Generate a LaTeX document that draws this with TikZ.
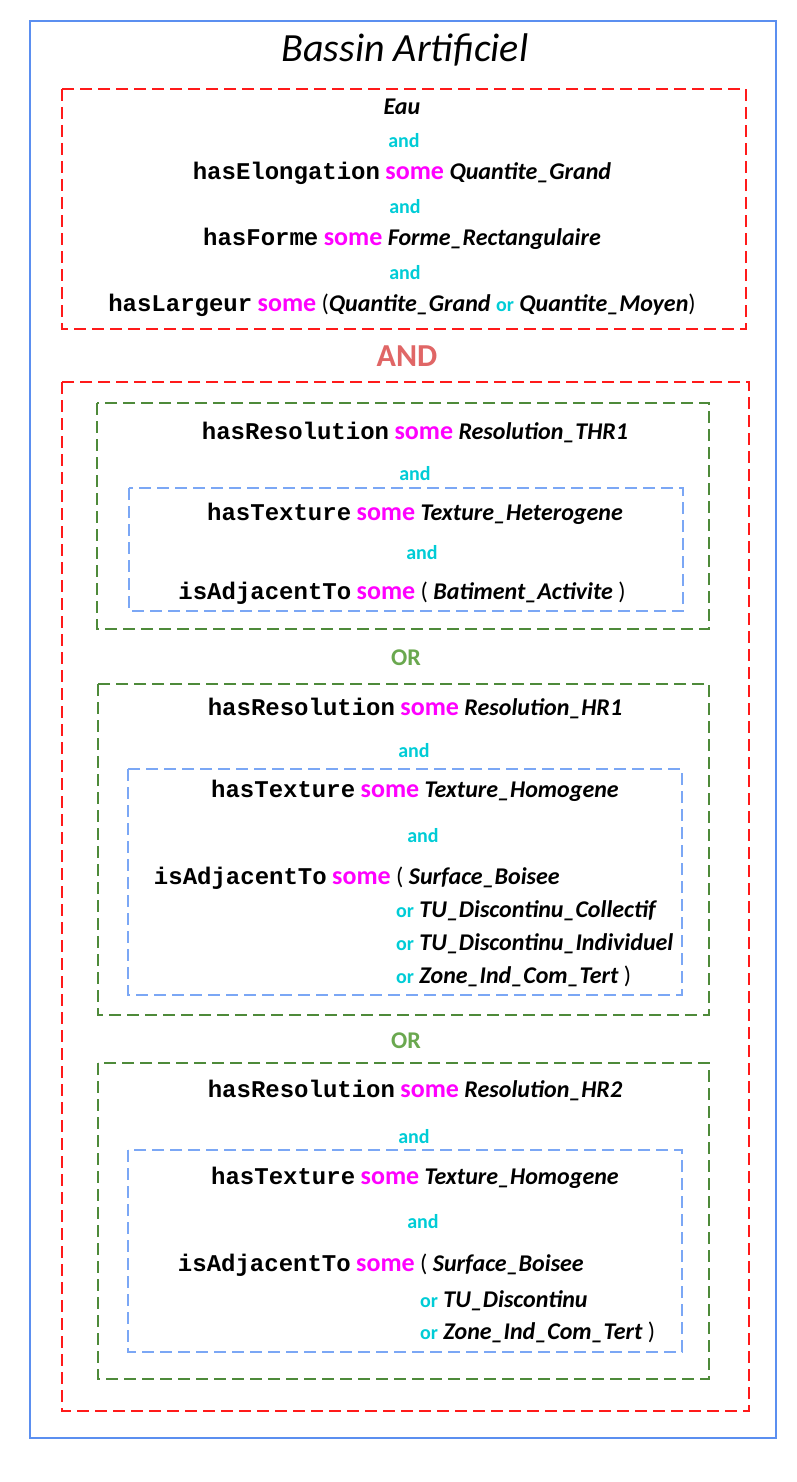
\documentclass[tikz,border=0pt]{standalone}
\usepackage{fontspec}
\setmainfont{Carlito}
\setmonofont{Liberation Mono}
\definecolor{outerblue}{HTML}{5B8FF0}
\definecolor{boxred}{HTML}{FF1A1A}
\definecolor{boxgreen}{HTML}{4E8A3A}
\definecolor{boxblue}{HTML}{7BA7F5}
\definecolor{kwcyan}{HTML}{00CCD6}
\definecolor{kwmag}{HTML}{FF00FF}
\definecolor{andred}{HTML}{E06666}
\definecolor{orgreen}{HTML}{6AA84F}
\newcommand{\prop}[1]{{\ttfamily\bfseries #1}}
\newcommand{\kwsome}{{\color{kwmag}\bfseries\fontsize{26}{30}\selectfont some}}
\newcommand{\cls}[1]{{\bfseries\itshape #1}}
\newcommand{\kwor}{{\color{kwcyan}\bfseries\fontsize{20}{24}\selectfont or}}
\newcommand{\kwand}{{\color{kwcyan}\bfseries\fontsize{20}{24}\selectfont and}}
\begin{document}
\begin{tikzpicture}[x=1pt,y=-1pt,
  txt/.style={inner sep=0pt, anchor=mid, yshift=-5pt, font=\fontsize{24}{28}\selectfont},
  outerbox/.style={draw=outerblue, line width=1.8pt},
  redbox/.style={draw=boxred, line width=1.5pt, dash pattern=on 12pt off 6pt},
  greenbox/.style={draw=boxgreen, line width=1.5pt, dash pattern=on 12pt off 6pt},
  bluebox/.style={draw=boxblue, line width=1.5pt, dash pattern=on 12pt off 6pt},
  bigop/.style={inner sep=0pt, anchor=mid, yshift=-6pt, font=\bfseries\fontsize{32}{36}\selectfont, text=andred},
  orop/.style={inner sep=0pt, anchor=mid, yshift=-5pt, font=\bfseries\fontsize{24}{28}\selectfont, text=orgreen}]
\useasboundingbox (0,0) rectangle (796,1482);
% outer
\draw[outerbox] (30,21) rectangle (776,1438);
\node[inner sep=0pt, anchor=mid, yshift=-9pt, font=\itshape\fontsize{40}{44}\selectfont] (title) at (405,50) {Bassin Artificiel};
% box 1
\draw[redbox] (62,89) rectangle (746,329);
\node[txt] (eau) at (402,107) {\cls{Eau}};
\node[txt] (and1) at (404,140) {\kwand};
\node[txt] (elong) at (402,172) {\prop{hasElongation} \kwsome{} \cls{Quantite\_Grand}};
\node[txt] (and2) at (405,206) {\kwand};
\node[txt] (forme) at (402,238) {\prop{hasForme} \kwsome{} \cls{Forme\_Rectangulaire}};
\node[txt] (and3) at (405,272) {\kwand};
\node[txt] (larg) at (402,304) {\prop{hasLargeur} \kwsome{} (\cls{Quantite\_Grand} \kwor{} \cls{Quantite\_Moyen})};
% AND
\node[bigop] (AND) at (407,358) {AND};
\draw[redbox] (62,382) rectangle (749,1411);
% group 1
\draw[greenbox] (97,403) rectangle (709,629);
\node[txt] (res1) at (415,432) {\prop{hasResolution} \kwsome{} \cls{Resolution\_THR1}};
\node[txt] (and4) at (415,473) {\kwand};
\draw[bluebox] (129,488) rectangle (683,611);
\node[txt] (tex1) at (415,513) {\prop{hasTexture} \kwsome{} \cls{Texture\_Heterogene}};
\node[txt] (and5) at (422,552) {\kwand};
\node[txt] (adj1) at (402,592) {\prop{isAdjacentTo} \kwsome{} ( \cls{Batiment\_Activite} )};
% OR 1
\node[orop] (OR1) at (406,658) {OR};
% group 2
\draw[greenbox] (98,684) rectangle (709,1015);
\node[txt] (res2) at (415,708) {\prop{hasResolution} \kwsome{} \cls{Resolution\_HR1}};
\node[txt] (and6) at (414,750) {\kwand};
\draw[bluebox] (128,769) rectangle (682,995);
\node[txt] (tex2) at (415,790) {\prop{hasTexture} \kwsome{} \cls{Texture\_Homogene}};
\node[txt] (and7) at (423,835) {\kwand};
\node[txt, anchor=mid west] (sb2) at (396,877) {( \cls{Surface\_Boisee}};
\node[txt, anchor=mid east, yshift=5pt] (adj2) at ([xshift=-5pt]sb2.mid west) {\prop{isAdjacentTo} \kwsome};
\node[txt, anchor=mid west] (c2) at (sb2.mid west |- 0,910) {\kwor{} \cls{TU\_Discontinu\_Collectif}};
\node[txt, anchor=mid west] (i2) at (sb2.mid west |- 0,943) {\kwor{} \cls{TU\_Discontinu\_Individuel}};
\node[txt, anchor=mid west] (z2) at (sb2.mid west |- 0,976) {\kwor{} \cls{Zone\_Ind\_Com\_Tert} )};
% OR 2
\node[orop] (OR2) at (406,1041) {OR};
% group 3
\draw[greenbox] (98,1063) rectangle (709,1379);
\node[txt] (res3) at (415,1090) {\prop{hasResolution} \kwsome{} \cls{Resolution\_HR2}};
\node[txt] (and8) at (414,1136) {\kwand};
\draw[bluebox] (128,1150) rectangle (682,1352);
\node[txt] (tex3) at (415,1177) {\prop{hasTexture} \kwsome{} \cls{Texture\_Homogene}};
\node[txt] (and9) at (423,1221) {\kwand};
\node[txt, anchor=mid west] (sb3) at (420,1264) {( \cls{Surface\_Boisee}};
\node[txt, anchor=mid east, yshift=5pt] (adj3) at ([xshift=-5pt]sb3.mid west) {\prop{isAdjacentTo} \kwsome};
\node[txt, anchor=mid west] (t3) at (sb3.mid west |- 0,1300) {\kwor{} \cls{TU\_Discontinu}};
\node[txt, anchor=mid west] (z3) at (sb3.mid west |- 0,1332) {\kwor{} \cls{Zone\_Ind\_Com\_Tert} )};
\end{tikzpicture}
\end{document}
